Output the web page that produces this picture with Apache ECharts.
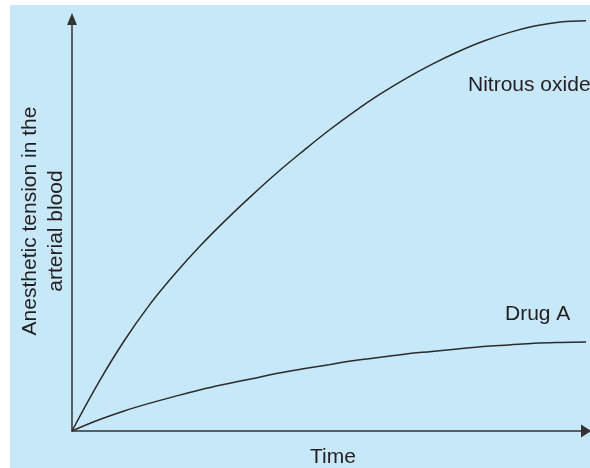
<!DOCTYPE html>
<html>
<head>
<meta charset="utf-8">
<script src="https://cdn.jsdelivr.net/npm/echarts@6/dist/echarts.min.js"></script>
<style>
html,body{margin:0;padding:0;background:#ffffff;}
#chart{width:590px;height:468px;}
</style>
</head>
<body>
<div id="chart"></div>
<script>
// Time (relative units, 0-100)
const timePoints = [0, 5, 10, 15, 20, 25, 30, 35, 40, 45, 50, 55, 60, 65, 70, 75, 80, 85, 90, 95, 100];
// Anesthetic tension in the arterial blood (relative units, 0-100)
const nitrousTension = [0, 11.4, 21.6, 30.5, 38.1, 45.0, 51.3, 57.2, 62.8, 68.0, 73.0, 77.6, 81.8, 85.6, 89.0, 92.0, 94.6, 96.7, 98.3, 99.3, 99.6];
const drugATension = [0, 2.6, 4.8, 6.7, 8.4, 10.0, 11.4, 12.7, 14.0, 15.1, 16.1, 17.1, 17.9, 18.7, 19.3, 19.9, 20.5, 20.9, 21.3, 21.5, 21.6];

const seriesNames = ['Nitrous oxide', 'Drug A'];
const xAxisTitle = 'Time';
const yAxisTitleLines = ['Anesthetic tension in the', 'arterial blood'];

const FONT = '"Liberation Sans", Arial, sans-serif';
const INK = '#231f20';
const LINE = '#2b2b2b';

const chart = echarts.init(document.getElementById('chart'), null, {renderer: 'canvas'});

const zip = (xs, ys) => xs.map((x, i) => [x, ys[i]]);

chart.setOption({
  animation: false,
  backgroundColor: '#ffffff',
  grid: {left: 72, right: 4, top: 19, bottom: 37, containLabel: false},
  xAxis: {
    type: 'value', min: 0, max: 100,
    axisLine: {show: true, symbol: ['none', 'triangle'], symbolSize: [13, 10], lineStyle: {color: '#333333', width: 1.5}},
    axisTick: {show: false}, axisLabel: {show: false}, splitLine: {show: false}
  },
  yAxis: {
    type: 'value', min: 0, max: 100,
    axisLine: {show: true, symbol: ['none', 'triangle'], symbolSize: [10, 12], lineStyle: {color: '#333333', width: 1.5}},
    axisTick: {show: false}, axisLabel: {show: false}, splitLine: {show: false}
  },
  graphic: [
    {type: 'rect', z: -10, silent: true, shape: {x: 10, y: 5, width: 580, height: 463}, style: {fill: '#c6e8f8'}},
    {type: 'text', x: 468, y: 85, style: {text: seriesNames[0], font: '21px ' + FONT, fill: INK, textAlign: 'left', textVerticalAlign: 'middle'}},
    {type: 'text', x: 505, y: 314, style: {text: seriesNames[1], font: '21px ' + FONT, fill: INK, textAlign: 'left', textVerticalAlign: 'middle'}},
    {type: 'text', x: 333, y: 457, style: {text: xAxisTitle, font: '21px ' + FONT, fill: INK, textAlign: 'center', textVerticalAlign: 'middle'}},
    {type: 'text', x: 30, y: 221, rotation: Math.PI / 2, style: {text: yAxisTitleLines[0], font: '21px ' + FONT, fill: INK, textAlign: 'center', textVerticalAlign: 'middle'}},
    {type: 'text', x: 56, y: 231, rotation: Math.PI / 2, style: {text: yAxisTitleLines[1], font: '21px ' + FONT, fill: INK, textAlign: 'center', textVerticalAlign: 'middle'}}
  ],
  series: [
    {name: seriesNames[0], type: 'line', data: zip(timePoints, nitrousTension), smooth: 0.4, showSymbol: false, lineStyle: {color: LINE, width: 1.5}},
    {name: seriesNames[1], type: 'line', data: zip(timePoints, drugATension), smooth: 0.4, showSymbol: false, lineStyle: {color: LINE, width: 1.5}}
  ]
});
</script>
</body>
</html>
